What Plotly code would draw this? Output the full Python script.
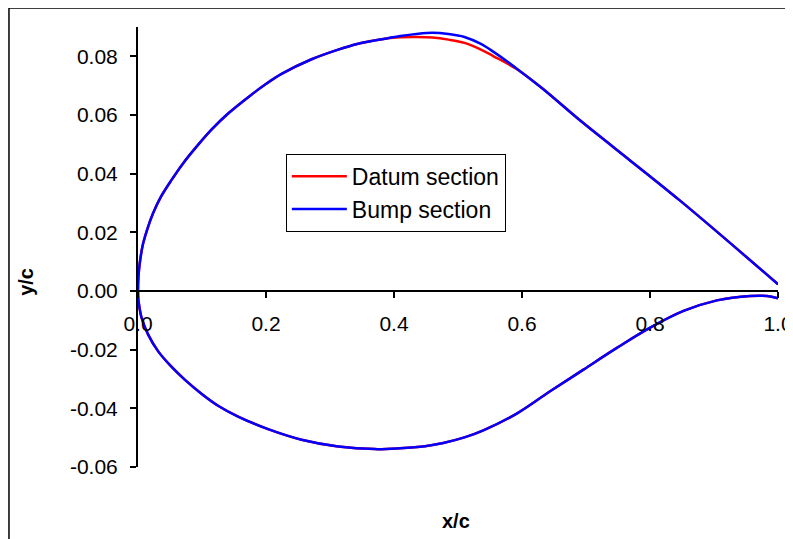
import plotly.graph_objects as go

# Upper surface (leading edge -> trailing edge)
x_upper = [0.0, 0.0006, 0.0025, 0.0078, 0.0147, 0.0235, 0.0355, 0.0522, 0.0704, 0.0938,
           0.1148, 0.1408, 0.1747, 0.1982, 0.2243, 0.2712, 0.3128, 0.3441, 0.3858,
           0.41, 0.435, 0.46, 0.485, 0.51, 0.535, 0.555, 0.592, 0.631, 0.691, 0.743, 0.847, 1.0]
y_upper_bump = [0.0, 0.0045, 0.0091, 0.0160, 0.0212, 0.0265, 0.0320, 0.0378, 0.0435, 0.0498,
                0.0550, 0.0605, 0.0665, 0.0703, 0.0740, 0.0790, 0.0823, 0.0843, 0.0860,
                0.0869, 0.0876, 0.0880, 0.0876, 0.0866, 0.0843, 0.0816, 0.0758, 0.0692, 0.0581, 0.0490, 0.0308, 0.0023]
y_upper_datum = [0.0, 0.0045, 0.0091, 0.0160, 0.0212, 0.0265, 0.0320, 0.0378, 0.0435, 0.0498,
                 0.0550, 0.0605, 0.0665, 0.0703, 0.0740, 0.0790, 0.0823, 0.0843, 0.0860,
                 0.0865, 0.0866, 0.0864, 0.0857, 0.0846, 0.0824, 0.0801, 0.0756, 0.0692, 0.0581, 0.0490, 0.0308, 0.0023]

# Lower surface (leading edge -> trailing edge), same for both sections
x_lower = [0.0, 0.0006, 0.0025, 0.0053, 0.0157, 0.0313, 0.0522, 0.073, 0.0991, 0.1251, 0.1564,
           0.2033, 0.2555, 0.3128, 0.3702, 0.4093, 0.4484, 0.477, 0.51, 0.5396, 0.5918, 0.6439,
           0.696, 0.7482, 0.8003, 0.8524, 0.9046, 0.9567, 0.9828, 1.0]
y_lower = [0.0, -0.0030, -0.0059, -0.0089, -0.0148, -0.0205, -0.0258, -0.0302, -0.0350, -0.0391, -0.0428,
           -0.0471, -0.0507, -0.0530, -0.0539, -0.0536, -0.0529, -0.0518, -0.0499, -0.0475, -0.0418, -0.0342,
           -0.0268, -0.0194, -0.0125, -0.0068, -0.0032, -0.0017, -0.0017, -0.0025]

series_names = ["Datum section", "Bump section"]
series_colors = ["#FF0000", "#0000FF"]

y_ticks = [-0.06, -0.04, -0.02, 0.0, 0.02, 0.04, 0.06, 0.08]
y_tick_labels = ["-0.06", "-0.04", "-0.02", "0.00", "0.02", "0.04", "0.06", "0.08"]
x_ticks = [0.0, 0.2, 0.4, 0.6, 0.8, 1.0]
x_tick_labels = ["0.0", "0.2", "0.4", "0.6", "0.8", "1.0"]

FONT = "Liberation Sans, Arial, sans-serif"

fig = go.Figure()
for name, color, yu in zip(series_names, series_colors, [y_upper_datum, y_upper_bump]):
    xs = x_upper[::-1] + x_lower[1:]
    ys = yu[::-1] + y_lower[1:]
    fig.add_trace(go.Scatter(x=xs, y=ys, mode="lines", name=name,
                             line=dict(color=color, width=2.5, shape="spline", smoothing=1.0)))

fig.update_layout(
    width=785, height=531,
    margin=dict(l=130, r=15, t=19, b=72, autoexpand=False),
    paper_bgcolor="white", plot_bgcolor="white",
    font=dict(family=FONT, size=21, color="black"),
    showlegend=True,
    legend=dict(x=0.231, y=0.712, xanchor="left", yanchor="top",
                bordercolor="black", borderwidth=1, bgcolor="white",
                itemwidth=55,
                font=dict(size=23)),
    xaxis=dict(range=[0, 1], tickvals=x_ticks, ticktext=x_tick_labels,
               anchor="free", position=0.4, automargin=False,
               showline=True, linecolor="black", linewidth=2,
               ticks="outside", ticklen=6, tickwidth=2, tickcolor="black",
               ticklabelstandoff=8,
               showgrid=False, zeroline=False),
    yaxis=dict(range=[-0.06, 0.09], tickvals=y_ticks, ticktext=y_tick_labels,
               automargin=False,
               showline=True, linecolor="black", linewidth=2,
               ticks="outside", ticklen=6, tickwidth=2, tickcolor="black",
               ticklabelstandoff=8,
               showgrid=False, zeroline=False),
    annotations=[
        dict(text="<b>x/c</b>", xref="paper", yref="paper", x=0.497, y=-0.123,
             showarrow=False, xanchor="center", yanchor="middle", font=dict(size=20)),
        dict(text="<b>y/c</b>", xref="paper", yref="paper", x=-0.174, y=0.42,
             showarrow=False, xanchor="center", yanchor="middle", textangle=-90,
             font=dict(size=20)),
    ],
    shapes=[dict(type="rect", xref="paper", yref="paper",
                 x0=-0.2016, x1=1.5, y0=-0.6, y1=1.043,
                 line=dict(color="black", width=1.5), layer="below")],
)

fig.write_html("out.html")
